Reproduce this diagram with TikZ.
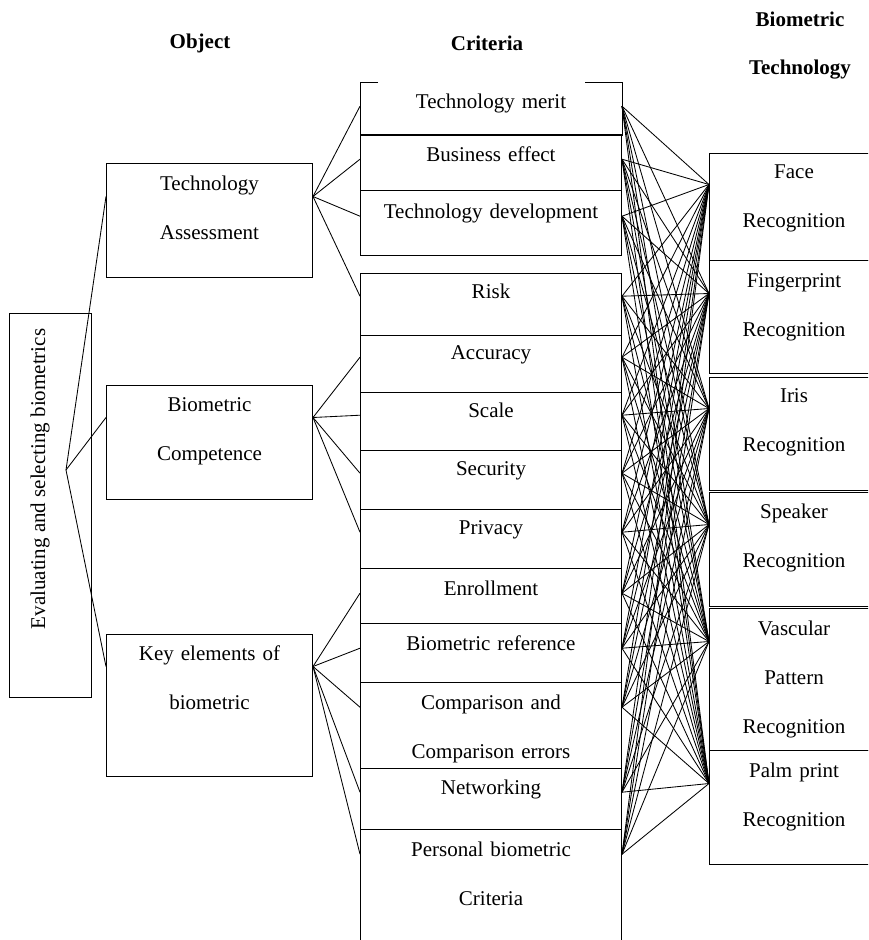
\documentclass[tikz,border=0pt]{standalone}
\usepackage{fontspec}
\setmainfont{Liberation Serif}

\tikzset{
  box/.style={draw, line width=1pt, inner sep=0pt, align=center, anchor=north west,
    font=\fontsize{21}{49}\selectfont},
  objbox/.style={box, text width=206pt},
  critbox/.style={box, text width=261pt},
  techbox/.style={box, text width=169pt},
  head/.style={align=center, font=\fontsize{21}{48}\selectfont\bfseries},
  link/.style={line width=0.85pt}
}

\begin{document}
\begin{tikzpicture}[x=1pt,y=-1pt]
  \useasboundingbox (0,0) rectangle (868,940);
  \clip (0,0) rectangle (868,940);

  % Column titles
  \node[head] (hobj) at (200,43) {Object};
  \node[head] (hcrit) at (487,43) {Criteria};
  \node[head] (htech) at (800,46) {Biometric\\Technology};

  % Goal
  \node[draw, line width=1pt, inner sep=0pt, minimum width=82pt, minimum height=384pt] (root) at (50,505) {};
  \node[rotate=90, font=\fontsize{21}{25}\selectfont] (rootT) at (40,479) {Evaluating and selecting biometrics};
  \coordinate (fork) at (66,470);

  % Objects
  \node[objbox, text height=27pt, text depth=87pt] (ta) at (106,163) {Technology\\Assessment};
  \node[objbox, text height=26pt, text depth=88pt] (bc) at (106,385) {Biometric\\Competence};
  \node[objbox, text height=26pt, text depth=116pt] (ke) at (106,634) {Key elements of\\biometric};

  % Criteria
  \node[critbox, draw=none, text height=26pt, text depth=26pt] (merit) at (360,82) {Technology merit};
  \draw[line width=1pt] ([xshift=18pt]merit.north west) -- (merit.north west) -- (merit.south west)
    -- (merit.south east) -- (merit.north east) -- ([xshift=-37pt]merit.north east);
  \node[critbox, text height=27pt, text depth=29pt] (business) at (360,134) {Business effect};
  \node[critbox, text height=28pt, text depth=37pt] (techdev) at (360,190) {Technology development};
  \node[critbox, text height=25pt, text depth=37pt] (risk) at (360,273) {Risk};
  \node[critbox, text height=24pt, text depth=33pt] (accuracy) at (360,335) {Accuracy};
  \node[critbox, text height=25pt, text depth=33pt] (scale) at (360,392) {Scale};
  \node[critbox, text height=25pt, text depth=34pt] (security) at (360,450) {Security};
  \node[critbox, text height=25pt, text depth=34pt] (privacy) at (360,509) {Privacy};
  \node[critbox, text height=27pt, text depth=28pt] (enroll) at (360,568) {Enrollment};
  \node[critbox, text height=27pt, text depth=32pt] (bioref) at (360,623) {Biometric reference};
  \node[critbox, text height=27pt, text depth=59pt] (comp) at (360,682) {Comparison and\\Comparison errors};
  \node[critbox, text height=26pt, text depth=35pt] (network) at (360,768) {Networking};
  \node[critbox, text height=27pt, text depth=124pt] (personal) at (360,829) {Personal biometric\\Criteria};

  % Biometric technologies
  \node[techbox, text height=25pt, text depth=82pt] (face) at (709,153) {Face\\Recognition};
  \node[techbox, text height=27pt, text depth=86pt] (finger) at (709,260) {Fingerprint\\Recognition};
  \node[techbox, text height=25pt, text depth=88pt] (iris) at (709,377) {Iris\\Recognition};
  \node[techbox, text height=26pt, text depth=88pt] (speaker) at (709,492) {Speaker\\Recognition};
  \node[techbox, text height=27pt, text depth=115pt] (vascular) at (709,608) {Vascular\\Pattern\\Recognition};
  \node[techbox, text height=27pt, text depth=87pt] (palm) at (709,750) {Palm print\\Recognition};

  % Goal to objects
  \foreach \o in {ta,bc,ke}
    \draw[link] (fork) -- ([yshift=-6pt]\o.base west);

  % Objects to criteria
  \foreach \c in {merit,business,techdev,risk}
    \draw[link] ([yshift=-6pt]ta.base east) -- (\c.mid west);
  \foreach \c in {accuracy,scale,security,privacy}
    \draw[link] ([yshift=-6pt]bc.base east) -- (\c.mid west);
  \foreach \c in {enroll,bioref,comp,network,personal}
    \draw[link] ([yshift=-6pt]ke.base east) -- (\c.mid west);

  % Every criterion to every technology
  \foreach \c in {merit,business,techdev,risk,accuracy,scale,security,privacy,enroll,bioref,comp,network,personal}
    \foreach \t in {face,finger,iris,speaker,vascular,palm}
      \draw[link] (\c.mid east) -- ([yshift=-6pt]\t.base west);
\end{tikzpicture}
\end{document}
